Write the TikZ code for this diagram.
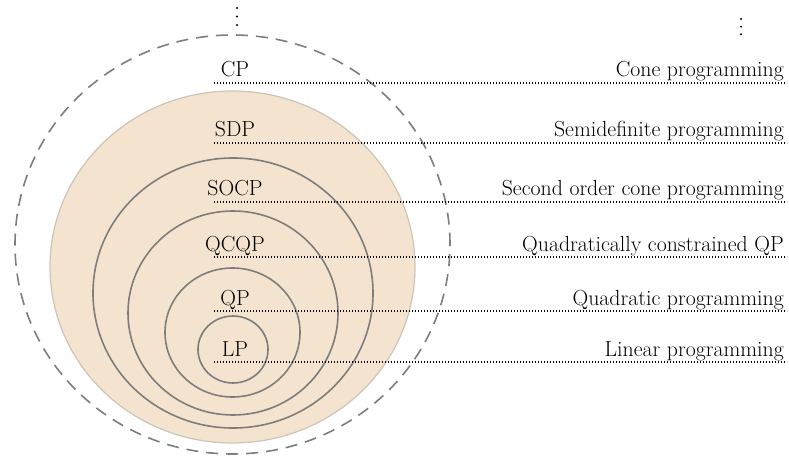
\documentclass[tikz,border=0pt]{standalone}
\usepackage{tikz}
\usetikzlibrary{calc,positioning}
\definecolor{conebeige}{RGB}{244,228,207}
\definecolor{coneedge}{RGB}{205,196,184}
\definecolor{ringgray}{RGB}{125,125,125}
\begin{document}
\begin{tikzpicture}[x=1pt, y=1pt,
	ring/.style={draw=ringgray, line width=1.6pt},
	guide/.style={line width=1.3pt, dash pattern=on 1.3pt off 1.7pt},
	tag/.style={font=\fontsize{21.8}{26}\selectfont, inner sep=0pt}]
		\useasboundingbox (0,0) rectangle (789,461);
		\pgfmathsetmacro{\tagx}{235}
		\pgfmathsetmacro{\linel}{214}
		\pgfmathsetmacro{\liner}{787}
		
		\draw[fill=conebeige, draw=coneedge, line width=1.2pt] (232.5,194) ellipse [x radius=182.5pt, y radius=176pt];
		\draw[ringgray, line width=1.6pt, dash pattern=on 12pt off 8pt] (232.5,216.5) ellipse [x radius=217.5pt, y radius=209.5pt];
		\draw[ring] (233,168) ellipse [x radius=140pt, y radius=135pt];
		\draw[ring] (233,148) ellipse [x radius=105pt, y radius=102pt];
		\draw[ring] (232.5,128.5) ellipse [x radius=67.5pt, y radius=64.5pt];
		\draw[ring] (233,111.5) ellipse [x radius=35pt, y radius=33.5pt];
		
		\foreach \y/\nm/\short/\long in {378/cp/CP/Cone programming, 318/sdp/SDP/Semidefinite programming, 259/socp/SOCP/Second order cone programming, 204/qcqp/QCQP/Quadratically constrained QP, 150/qp/QP/Quadratic programming, 99/lp/LP/Linear programming}{
			\coordinate (\nm-l) at (\linel,\y);
			\coordinate (\nm-r) at (\liner,\y);
			\draw[guide] (\nm-l) -- (\nm-r);
			\node[tag, anchor=base] (\nm-short) at (\tagx,\y+6) {\short};
			\node[tag, anchor=base east] (\nm-long) at (784,\y+6) {\long};
		}
		
		\foreach \dy in {0,8.5,17}{
			\fill (237,453-\dy) circle (1.1pt);
			\fill (741,442-0.9*\dy) circle (1.1pt);
		}
\end{tikzpicture}
\end{document}
